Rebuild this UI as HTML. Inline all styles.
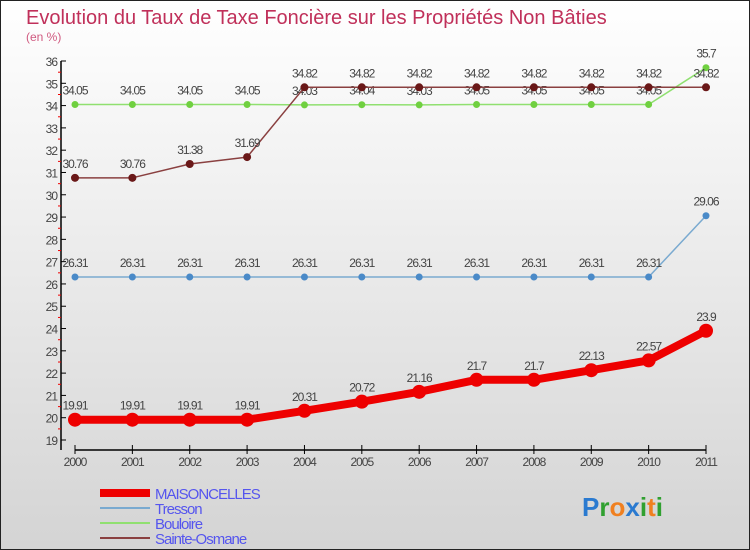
<!DOCTYPE html>
<html><head><meta charset="utf-8"><style>
body{margin:0;}
#c{width:750px;height:550px;position:relative;box-sizing:border-box;border:1px solid #222;background:linear-gradient(#ffffff,#d4d4d4);font-family:"Liberation Sans",sans-serif;overflow:hidden}
</style></head><body>
<div id="c">
<svg id="s" width="750" height="550" style="position:absolute;left:-1px;top:-1px">
<text x="26" y="24" font-size="20" fill="#c0305a">Evolution du Taux de Taxe Foncière sur les Propriétés Non Bâties</text>
<text x="26" y="41" font-size="12" fill="#d05a80">(en %)</text>
</svg>
</div>
<script>
const years=[2000,2001,2002,2003,2004,2005,2006,2007,2008,2009,2010,2011];
const maison=[19.91,19.91,19.91,19.91,20.31,20.72,21.16,21.7,21.7,22.13,22.57,23.9];
const tresson=[26.31,26.31,26.31,26.31,26.31,26.31,26.31,26.31,26.31,26.31,26.31,29.06];
const bouloire=[34.05,34.05,34.05,34.05,34.03,34.04,34.03,34.05,34.05,34.05,34.05,35.7];
const osmane=[30.76,30.76,31.38,31.69,34.82,34.82,34.82,34.82,34.82,34.82,34.82,34.82];
const yTicks=[19,20,21,22,23,24,25,26,27,28,29,30,31,32,33,34,35,36];
const NS='http://www.w3.org/2000/svg';const s=document.getElementById('s');
const X=i=>75+i*(706-75)/11, Y=v=>440-(v-19)*(379/17);
function mk(t,a,txt){const e=document.createElementNS(NS,t);for(const k in a)e.setAttribute(k,a[k]);if(txt!=null)e.textContent=txt;s.appendChild(e);return e;}
let e=mk('line',{x1:61,y1:61,x2:61,y2:450,stroke:'#000','stroke-width':1.5});

e=mk('line',{x1:75,y1:450,x2:706,y2:450,stroke:'#000','stroke-width':1.5});

yTicks.forEach(v=>{const y=Y(v);mk('line',{x1:61,y1:y,x2:66,y2:y,stroke:'#000'});
if(v<36)mk('line',{x1:58,y1:y-11.1,x2:61,y2:y-11.1,stroke:'#e00'});
e=mk('text',{x:57,y:y+5,'font-size':12,fill:'#444','text-anchor':'end','letter-spacing':'-1'},v);
});
years.forEach((yr,i)=>{mk('line',{x1:X(i),y1:445,x2:X(i),y2:454,stroke:'#000'});
e=mk('text',{x:X(i),y:466,'font-size':12,fill:'#444','text-anchor':'middle','letter-spacing':'-1'},yr);
});
function series(d,color,dot,w,r,name){
const pts=d.map((v,i)=>X(i)+','+Y(v)).join(' ');
e=mk('polyline',{points:pts,fill:'none',stroke:color,'stroke-width':w,'stroke-linejoin':'round'});

d.forEach((v,i)=>{e=mk('circle',{cx:X(i),cy:Y(v),r:r,fill:dot});

e=mk('text',{x:X(i),y:Y(v)-10,'font-size':12,fill:'#444','text-anchor':'middle','letter-spacing':'-1'},String(v));
});}
series(tresson,'#7aaad0','#4a8ac8',1.5,3.5,'tresson');
series(bouloire,'#90e070','#70d040',1.5,3.5,'bouloire');
series(osmane,'#8a4040','#6a1818',1.5,4,'sainte-osmane');
series(maison,'#ee0000','#ee0000',8,7,'maisoncelles');
const leg=[['MAISONCELLES','#ee0000',8],['Tresson','#7aaad0',2],['Bouloire','#90e070',2],['Sainte-Osmane','#8a4040',2]];
leg.forEach((l,i)=>{const y=493+i*15;mk('line',{x1:100,y1:y,x2:150,y2:y,stroke:l[1],'stroke-width':l[2]});
e=mk('text',{x:155,y:y+6,'font-size':15,fill:'#5555ee','letter-spacing':'-1'},l[0]);
});
e=mk('text',{x:582,y:516,'font-size':26,'font-weight':'bold',fill:'#2a7ad0'},'');

[['P','#2a7ad0'],['r','#30a030'],['o','#f08020'],['x','#2a7ad0'],['i','#30a030'],['t','#f08020'],['i','#30a030']].forEach(c=>{const t=document.createElementNS(NS,'tspan');t.setAttribute('fill',c[1]);t.textContent=c[0];e.appendChild(t);});
</script>
</body></html>
